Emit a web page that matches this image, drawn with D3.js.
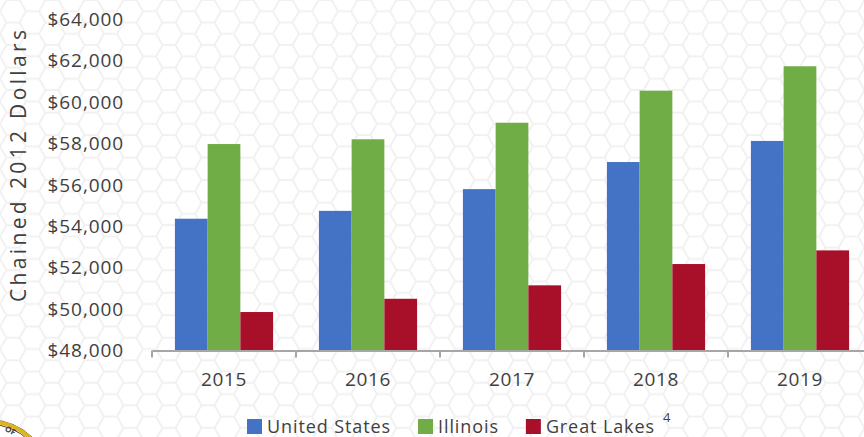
<!DOCTYPE html>
<html>
<head>
<meta charset="utf-8">
<script src="https://cdn.jsdelivr.net/npm/d3@7"></script>
<style>
	body { margin: 0; background: #fff; }
	svg { display: block; }
	text { font-family: "Open Sans", sans-serif; fill: #404040; }
</style>
</head>
<body>
<svg id="chart" width="864" height="437"></svg>
<script>
// Data
var years = ["2015", "2016", "2017", "2018", "2019"]
var seriesNames = ["United States", "Illinois", "Great Lakes"]
var unitedStates = [54370, 54750, 55800, 57110, 58130]
var illinois = [57980, 58210, 59010, 60560, 61740]
var greatLakes = [49860, 50500, 51150, 52180, 52840]
var yTicks = [48000, 50000, 52000, 54000, 56000, 58000, 60000, 62000, 64000]
var colors = ["#4472C4", "#70AD47", "#A8102A"]

var svg = d3.select("#chart")

// Light lattice background
var s = 13, ph = Math.sqrt(3) * s
var pat = svg.append("defs").append("pattern")
	.attr("id", "lattice")
	.attr("patternUnits", "userSpaceOnUse")
	.attr("width", 3 * s).attr("height", ph)
pat.append("path")
	.attr("d", "M0," + ph / 2 + "L" + s / 2 + ",0L" + 1.5 * s + ",0L" + 2 * s + "," + ph / 2 +
		"L" + 1.5 * s + "," + ph + "L" + s / 2 + "," + ph + "Z M" + 2 * s + "," + ph / 2 + "L" + 3 * s + "," + ph / 2)
	.attr("fill", "none")
	.attr("stroke", "#f1f1f1")
	.attr("stroke-width", 2)
svg.append("rect").attr("width", 864).attr("height", 437).attr("fill", "url(#lattice)")

// Scales
var x = d3.scaleBand().domain(years).range([152, 872]).padding(0)
var xs = d3.scaleBand().domain(seriesNames).range([0, x.bandwidth()]).paddingInner(0).paddingOuter(0.7)
var y = d3.scaleLinear().domain([48000, 64000]).range([350.5, 19.5])

var series = seriesNames.map(function(name, i) {
	var vals = [unitedStates, illinois, greatLakes][i]
	return { name: name, color: colors[i], values: years.map(function(yr, j) { return { year: yr, value: vals[j] } }) }
})

// Bars
var groups = svg.selectAll(".series")
	.data(series)
	.enter().append("g")
	.attr("class", "series")
	.attr("fill", function(d) { return d.color })
groups.selectAll("rect")
	.data(function(d) { return d.values.map(function(v) { return { name: d.name, year: v.year, value: v.value } }) })
	.enter().append("rect")
	.attr("x", function(d) { return x(d.year) + xs(d.name) })
	.attr("width", xs.bandwidth())
	.attr("y", function(d) { return y(d.value) })
	.attr("height", function(d) { return y(48000) - y(d.value) })

// Y axis (labels only)
var yAxis = svg.append("g")
	.attr("transform", "translate(124,0)")
	.call(d3.axisLeft(y).tickValues(yTicks).tickSize(0).tickPadding(0)
		.tickFormat(function(d) { return "$" + d3.format(",")(d) }))
yAxis.select(".domain").remove()
yAxis.selectAll("text")
	.style("font-size", "19px")
	.style("letter-spacing", "0.9px")
	.attr("fill", "#404040")

// X axis
var xAxis = svg.append("g")
	.attr("transform", "translate(0," + y(48000) + ")")
	.call(d3.axisBottom(x).tickSize(0).tickPadding(22))
xAxis.select(".domain")
	.attr("stroke", "#a6a6a6")
	.attr("stroke-width", 2)
xAxis.selectAll("text")
	.style("font-size", "19px")
	.style("letter-spacing", "0.6px")
	.attr("fill", "#404040")
xAxis.selectAll(".boundary")
	.data(years.map(function(yr) { return x(yr) }).concat([x.range()[1]]))
	.enter().append("line")
	.attr("class", "boundary")
	.attr("x1", function(d) { return d }).attr("x2", function(d) { return d })
	.attr("y1", 0).attr("y2", 7)
	.attr("stroke", "#a6a6a6")
	.attr("stroke-width", 2)

// Y axis title
svg.append("text")
	.attr("transform", "translate(26,166) rotate(-90)")
	.attr("text-anchor", "middle")
	.attr("textLength", 272)
	.attr("lengthAdjust", "spacing")
	.style("font-size", "21px")
	.text("Chained 2012 Dollars")

// Legend
var legend = svg.append("g").attr("transform", "translate(247,419)")
var lx = 0
series.forEach(function(d, i) {
	var item = legend.append("g").attr("transform", "translate(" + lx + ",0)")
	item.append("rect").attr("width", 15).attr("height", 15).attr("fill", d.color)
	var t = item.append("text")
		.attr("x", 20).attr("y", 13.5)
		.style("font-size", "18px")
		.style("letter-spacing", "0.9px")
		.text(d.name)
	var w = t.node().getComputedTextLength()
	if (i === 2) {
		item.append("text")
			.attr("x", 20 + w + 8).attr("y", 3)
			.style("font-size", "13px")
			.text("4")
	}
	lx += 20 + w + 27
})

// Seal peeking in at the bottom-left corner
var seal = svg.append("g").attr("transform", "translate(-10,480)")
seal.append("circle").attr("r", 60).attr("fill", "#fff").attr("stroke", "#5a4a12").attr("stroke-width", 1)
seal.append("circle").attr("r", 58).attr("fill", "none").attr("stroke", "#e0b322").attr("stroke-width", 4)
seal.append("circle").attr("r", 55.5).attr("fill", "none").attr("stroke", "#5a4a12").attr("stroke-width", 1)
svg.append("text")
	.attr("transform", "translate(9,433) rotate(28)")
	.attr("text-anchor", "middle")
	.style("font-size", "8px")
	.style("font-weight", "bold")
	.attr("fill", "#222")
	.text("OF")
</script>
</body>
</html>
